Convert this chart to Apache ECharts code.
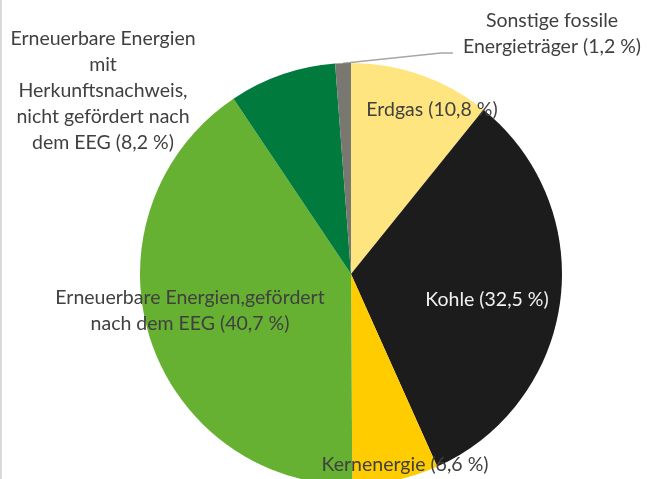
<!DOCTYPE html>
<html>
<head>
<meta charset="utf-8">
<script src="https://cdn.jsdelivr.net/npm/echarts@6/dist/echarts.min.js"></script>
<style>
  html, body { margin: 0; padding: 0; background: #fff; }
  #main { position: relative; width: 647px; height: 479px; }
  .frame { position: absolute; left: 0; top: 0; width: 2px; height: 479px; background: #d9d9d9; }
</style>
</head>
<body>
<div id="main"></div>
<div class="frame"></div>
<script>
// Anteile am Strommix (%)
const sources = [
  "Erdgas",
  "Kohle",
  "Kernenergie",
  "Erneuerbare Energien,gefördert\nnach dem EEG",
  "Erneuerbare Energien\nmit\nHerkunftsnachweis,\nnicht gefördert nach\ndem EEG",
  "Sonstige fossile\nEnergieträger"
];
const shares = [10.8, 32.5, 6.6, 40.7, 8.2, 1.2];
const colors = ["#FFE57F", "#1C1C1C", "#FFCC00", "#66B032", "#007A3D", "#787870"];
const labelColors = ["#404040", "#F2F2F2", "#404040", "#404040", "#404040", "#404040"];

// Label-Mittelpunkte (nur Layout)
const labelCenters = [
  [432, 110],
  [487, 300],
  [405, 465],
  [190, 311],
  [103, 91],
  [552, 34]
];

const myChart = echarts.init(document.getElementById("main"));

const option = {
  animation: false,
  textStyle: { fontFamily: "Lato" },
  series: [
    {
      type: "pie",
      center: [351, 274],
      radius: 211,
      startAngle: 90,
      clockwise: true,
      label: {
        show: true,
        position: "inside",
        fontFamily: "Lato",
        fontSize: 19.5,
        lineHeight: 26,
        align: "center",
        formatter: (p) => p.name + " (" + String(p.value).replace(".", ",") + " %)"
      },
      labelLine: { show: false },
      labelLayout: (params) => {
        const c = labelCenters[params.dataIndex];
        const r = params.labelRect;
        const res = {
          x: c[0],
          y: c[1],
          align: "center",
          verticalAlign: "middle"
        };
        if (params.dataIndex === 5 && params.labelLinePoints) {
          const p0 = params.labelLinePoints[0];
          const endY = c[1] + 19;
          const leftX = c[0] - r.width / 2;
          res.labelLinePoints = [p0, [leftX - 22, endY], [leftX - 10, endY]];
        }
        return res;
      },
      data: sources.map((name, i) => ({
        name: name,
        value: shares[i],
        itemStyle: { color: colors[i] },
        label: i === 5
          ? { color: labelColors[i], position: "outside" }
          : { color: labelColors[i] },
        labelLine: i === 5
          ? { show: true, length: 10, length2: 10, lineStyle: { color: "#A6A6A6", width: 1.5 } }
          : { show: false }
      }))
    }
  ]
};

myChart.setOption(option);
</script>
</body>
</html>
